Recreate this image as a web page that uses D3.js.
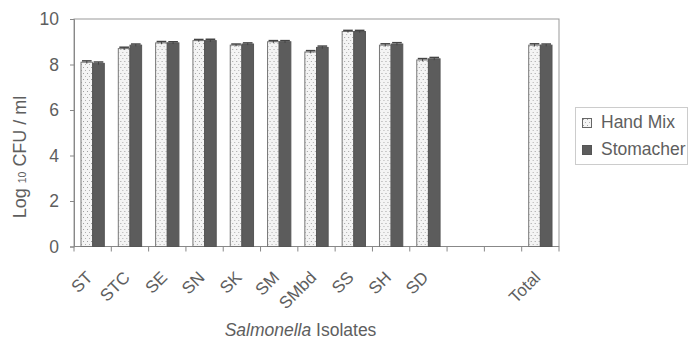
<!DOCTYPE html>
<html>
<head>
<meta charset="utf-8">
<script src="https://cdn.jsdelivr.net/npm/d3@7/dist/d3.min.js"></script>
<style>
  html, body { margin: 0; padding: 0; background: #fff; }
  svg { display: block; }
  text { font-family: "Liberation Sans", Arial, sans-serif; fill: #5e5e5e; }
</style>
</head>
<body>
<svg id="chart" width="689" height="339"></svg>
<script>
const categories = ["ST", "STC", "SE", "SN", "SK", "SM", "SMbd", "SS", "SH", "SD", "", " ", "Total"];
const handMix   = [8.10, 8.70, 8.95, 9.05, 8.85, 9.00, 8.55, 9.45, 8.85, 8.20, null, null, 8.85];
const stomacher = [8.05, 8.85, 8.95, 9.05, 8.90, 9.00, 8.75, 9.45, 8.90, 8.25, null, null, 8.85];
const handMixErr   = [0.06, 0.06, 0.06, 0.05, 0.05, 0.05, 0.06, 0.05, 0.06, 0.06, null, null, 0.06];
const stomacherErr = [0.06, 0.05, 0.05, 0.06, 0.05, 0.05, 0.06, 0.05, 0.06, 0.06, null, null, 0.05];
const yTicks = [0, 2, 4, 6, 8, 10];
const seriesNames = ["Hand Mix", "Stomacher"];

const svg = d3.select("#chart");
const plot = { left: 74, right: 559, top: 19, bottom: 246.5 };

const defs = svg.append("defs");
const pat = defs.append("pattern").attr("id", "dots")
  .attr("patternUnits", "userSpaceOnUse").attr("width", 4).attr("height", 6);
pat.append("rect").attr("width", 4).attr("height", 6).attr("fill", "#f4f4f4");
pat.append("rect").attr("x", 1).attr("y", 1).attr("width", 1).attr("height", 1).attr("fill", "#a0a0a0");
pat.append("rect").attr("x", 3).attr("y", 4).attr("width", 1).attr("height", 1).attr("fill", "#b0b0b0");

const x = d3.scaleBand().domain(categories).range([plot.left, plot.right]).padding(0);
const xs = d3.scaleBand().domain(seriesNames).range([7, x.bandwidth() - 7]).padding(0);
const y = d3.scaleLinear().domain([0, 10]).range([plot.bottom, plot.top]);

// plot frame
svg.append("rect")
  .attr("x", plot.left).attr("y", plot.top)
  .attr("width", plot.right - plot.left).attr("height", plot.bottom - plot.top)
  .attr("fill", "none").attr("stroke", "#999").attr("stroke-width", 1);

// y axis
const yAxis = svg.append("g").attr("transform", `translate(${plot.left},0)`)
  .call(d3.axisLeft(y).tickValues(yTicks).tickSize(4).tickPadding(11));
yAxis.select(".domain").attr("stroke", "#888");
yAxis.selectAll(".tick line").attr("stroke", "#888");
yAxis.selectAll(".tick text").attr("font-size", 17.5).attr("fill", "#5e5e5e")
  .attr("font-family", "'Liberation Sans', Arial, sans-serif");

// x axis line + ticks at boundaries
const xAxisG = svg.append("g");
xAxisG.append("line").attr("x1", plot.left).attr("x2", plot.right)
  .attr("y1", plot.bottom).attr("y2", plot.bottom).attr("stroke", "#888");
xAxisG.selectAll("line.tk").data(categories.concat(["__end"]))
  .enter().append("line").attr("class", "tk")
  .attr("x1", (d, i) => i < categories.length ? x(d) : plot.right)
  .attr("x2", (d, i) => i < categories.length ? x(d) : plot.right)
  .attr("y1", plot.bottom).attr("y2", plot.bottom + 5).attr("stroke", "#888");
xAxisG.selectAll("text.xl").data(categories.filter(c => c.trim() !== ""))
  .enter().append("text").attr("class", "xl")
  .attr("transform", d => `translate(${x(d) + x.bandwidth() / 2 + 1},${plot.bottom + 32}) rotate(-45)`)
  .attr("text-anchor", "end").attr("font-size", 17).text(d => d);

// bars
const rows = categories.map((c, i) => ({ c, vals: [
  { s: "Hand Mix", v: handMix[i], e: handMixErr[i] },
  { s: "Stomacher", v: stomacher[i], e: stomacherErr[i] }
]}));
const g = svg.append("g");
const grp = g.selectAll("g.cat").data(rows).enter().append("g")
  .attr("transform", d => `translate(${x(d.c)},0)`);
const bars = grp.selectAll("g.bar").data(d => d.vals.filter(v => v.v != null)).enter().append("g");
bars.append("rect")
  .attr("x", d => xs(d.s)).attr("width", xs.bandwidth())
  .attr("y", d => y(d.v)).attr("height", d => y(0) - y(d.v))
  .attr("fill", d => d.s === "Hand Mix" ? "url(#dots)" : "#5c5c5c")
  .attr("stroke", d => d.s === "Hand Mix" ? "#777" : "#555")
  .attr("stroke-width", 1);
// error bars
bars.append("line")
  .attr("x1", d => xs(d.s) + xs.bandwidth() / 2).attr("x2", d => xs(d.s) + xs.bandwidth() / 2)
  .attr("y1", d => y(d.v - d.e)).attr("y2", d => y(d.v + d.e))
  .attr("stroke", "#444").attr("stroke-width", 1);
bars.append("line")
  .attr("x1", d => xs(d.s) + 1).attr("x2", d => xs(d.s) + xs.bandwidth() - 1)
  .attr("y1", d => y(d.v + d.e)).attr("y2", d => y(d.v + d.e))
  .attr("stroke", "#444").attr("stroke-width", 1.5);

// axis titles
svg.append("text")
  .attr("transform", `translate(${(224 + 377) / 2},336)`)
  .attr("text-anchor", "middle").attr("font-size", 17.5)
  .call(t => {
    t.append("tspan").attr("font-style", "italic").text("Salmonella");
    t.append("tspan").text(" Isolates");
  });
svg.append("text")
  .attr("transform", `translate(26,157) rotate(-90)`)
  .attr("text-anchor", "middle").attr("font-size", 18)
  .call(t => {
    t.append("tspan").text("Log ");
    t.append("tspan").attr("font-size", 10.5).text("10");
    t.append("tspan").text(" CFU / ml");
  });

// legend
const lg = svg.append("g");
lg.append("rect").attr("x", 575.5).attr("y", 107.5).attr("width", 112).attr("height", 57)
  .attr("fill", "#fff").attr("stroke", "#ccc");
const li = lg.selectAll("g.li").data(seriesNames).enter().append("g")
  .attr("transform", (d, i) => `translate(582,${118 + i * 27})`);
li.append("rect").attr("width", 9).attr("height", 9).attr("x", 0.5).attr("y", 0.5)
  .attr("fill", d => d === "Hand Mix" ? "url(#dots)" : "#5c5c5c")
  .attr("stroke", d => d === "Hand Mix" ? "#666" : "#555");
li.append("text").attr("x", 19).attr("y", 10).attr("font-size", 17.5).text(d => d);
</script>
</body>
</html>
